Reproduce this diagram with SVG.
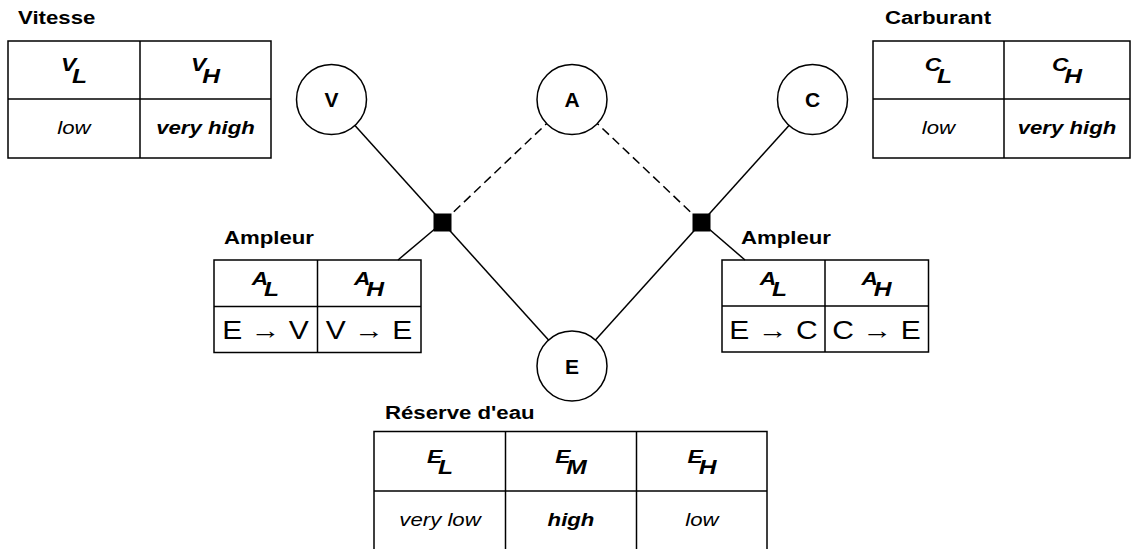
<svg xmlns="http://www.w3.org/2000/svg" width="1132" height="549" viewBox="0 0 1132 549">
<style>
.tb{fill:none;stroke:#000;stroke-width:1.5}
.ln{stroke:#000;stroke-width:1.5;fill:none}
.dash{stroke-dasharray:9 5}
.nd{fill:#fff;stroke:#000;stroke-width:1.5}
.nl{font-family:"Liberation Sans",Arial,sans-serif;font-weight:bold;font-size:21px;text-anchor:middle;fill:#000}
.ti{font-family:"Liberation Sans",Arial,sans-serif;font-weight:bold;font-size:18.5px;fill:#000}
.hd{font-family:"Liberation Sans",Arial,sans-serif;font-weight:bold;font-style:italic;font-size:19px;text-anchor:middle;fill:#000}
.sb{font-size:20.5px}
.it{font-family:"Liberation Sans",Arial,sans-serif;font-style:italic;font-size:18.5px;text-anchor:middle;fill:#000}
.bi{font-family:"Liberation Sans",Arial,sans-serif;font-style:italic;font-weight:bold;font-size:18.5px;text-anchor:middle;fill:#000}
.ar{font-family:"Liberation Sans",Arial,sans-serif;font-size:25px;text-anchor:middle;fill:#000}
</style>
<rect width="1132" height="549" fill="#fff"/>
<g id="connectors">
<line class="ln" x1="331.5" y1="99.5" x2="442.5" y2="222.5"/>
<line class="ln dash" x1="572" y1="99.5" x2="442.5" y2="222.5"/>
<line class="ln dash" x1="572" y1="99.5" x2="701.5" y2="222.5"/>
<line class="ln" x1="812.5" y1="99.5" x2="701.5" y2="222.5"/>
<line class="ln" x1="442.5" y1="222.5" x2="572" y2="366"/>
<line class="ln" x1="701.5" y1="222.5" x2="572" y2="366"/>
<line class="ln" x1="442.5" y1="222.5" x2="398" y2="260"/>
<line class="ln" x1="701.5" y1="222.5" x2="745" y2="260"/>
</g>
<g id="node-V"><circle class="nd" cx="331.5" cy="99.5" r="35"/><text class="nl" x="331.5" y="107">V</text></g>
<g id="node-A"><circle class="nd" cx="572" cy="99.5" r="35"/><text class="nl" x="572" y="107">A</text></g>
<g id="node-C"><circle class="nd" cx="812.5" cy="99.5" r="35"/><text class="nl" x="812.5" y="107">C</text></g>
<g id="node-E"><circle class="nd" cx="572" cy="366" r="35"/><text class="nl" x="572" y="373.5">E</text></g>
<g id="factor-left"><rect x="433.5" y="213.5" width="18" height="18" fill="#000"/></g>
<g id="factor-right"><rect x="692.5" y="213.5" width="18" height="18" fill="#000"/></g>

<g id="table-vitesse">
<text class="ti" transform="translate(18,24) scale(1.2,1)">Vitesse</text>
<rect class="tb" x="8" y="41" width="263" height="117"/>
<line class="tb" x1="8" y1="99" x2="271" y2="99"/>
<line class="tb" x1="140" y1="41" x2="140" y2="158"/>
<text class="hd" transform="translate(74,71) scale(1.2,1)">V<tspan class="sb" dx="-3.5" dy="11.5">L</tspan></text>
<text class="hd" transform="translate(205.5,71) scale(1.2,1)">V<tspan class="sb" dx="-3.5" dy="11.5">H</tspan></text>
<text class="it" transform="translate(74,133.5) scale(1.2,1)">low</text>
<text class="bi" transform="translate(205.5,133.5) scale(1.2,1)">very high</text>
</g>

<g id="table-carburant">
<text class="ti" transform="translate(885,24) scale(1.2,1)">Carburant</text>
<rect class="tb" x="873" y="41" width="257" height="117"/>
<line class="tb" x1="873" y1="99" x2="1130" y2="99"/>
<line class="tb" x1="1004" y1="41" x2="1004" y2="158"/>
<text class="hd" transform="translate(938.5,71) scale(1.2,1)">C<tspan class="sb" dx="-3.5" dy="11.5">L</tspan></text>
<text class="hd" transform="translate(1067,71) scale(1.2,1)">C<tspan class="sb" dx="-3.5" dy="11.5">H</tspan></text>
<text class="it" transform="translate(938.5,133.5) scale(1.2,1)">low</text>
<text class="bi" transform="translate(1067,133.5) scale(1.2,1)">very high</text>
</g>

<g id="table-ampleur-left">
<text class="ti" transform="translate(224,244) scale(1.2,1)">Ampleur</text>
<rect class="tb" x="214" y="260" width="207" height="92.5"/>
<line class="tb" x1="214" y1="306.5" x2="421" y2="306.5"/>
<line class="tb" x1="317.5" y1="260" x2="317.5" y2="352.5"/>
<text class="hd" transform="translate(265.5,284.5) scale(1.2,1)">A<tspan class="sb" dx="-3.5" dy="11.5">L</tspan></text>
<text class="hd" transform="translate(369,284.5) scale(1.2,1)">A<tspan class="sb" dx="-3.5" dy="11.5">H</tspan></text>
<text class="ar" transform="translate(265.5,339) scale(1.2,1)">E → V</text>
<text class="ar" transform="translate(369,339) scale(1.2,1)">V → E</text>
</g>

<g id="table-ampleur-right">
<text class="ti" transform="translate(741,244) scale(1.2,1)">Ampleur</text>
<rect class="tb" x="722" y="260" width="206.5" height="92"/>
<line class="tb" x1="722" y1="306" x2="928.5" y2="306"/>
<line class="tb" x1="825" y1="260" x2="825" y2="352"/>
<text class="hd" transform="translate(773.5,284.5) scale(1.2,1)">A<tspan class="sb" dx="-3.5" dy="11.5">L</tspan></text>
<text class="hd" transform="translate(876.5,284.5) scale(1.2,1)">A<tspan class="sb" dx="-3.5" dy="11.5">H</tspan></text>
<text class="ar" transform="translate(773.5,339) scale(1.2,1)">E → C</text>
<text class="ar" transform="translate(876.5,339) scale(1.2,1)">C → E</text>
</g>

<g id="table-reserve">
<text class="ti" transform="translate(385,419) scale(1.2,1)">Réserve d'eau</text>
<rect class="tb" x="374" y="431.5" width="393" height="120"/>
<line class="tb" x1="374" y1="491" x2="767" y2="491"/>
<line class="tb" x1="505.5" y1="431.5" x2="505.5" y2="551.5"/>
<line class="tb" x1="636.5" y1="431.5" x2="636.5" y2="551.5"/>
<text class="hd" transform="translate(440,462.5) scale(1.2,1)">E<tspan class="sb" dx="-3.5" dy="11.5">L</tspan></text>
<text class="hd" transform="translate(571,462.5) scale(1.2,1)">E<tspan class="sb" dx="-3.5" dy="11.5">M</tspan></text>
<text class="hd" transform="translate(702,462.5) scale(1.2,1)">E<tspan class="sb" dx="-3.5" dy="11.5">H</tspan></text>
<text class="it" transform="translate(440,525.5) scale(1.2,1)">very low</text>
<text class="bi" transform="translate(571,525.5) scale(1.2,1)">high</text>
<text class="it" transform="translate(702,525.5) scale(1.2,1)">low</text>
</g>
</svg>
